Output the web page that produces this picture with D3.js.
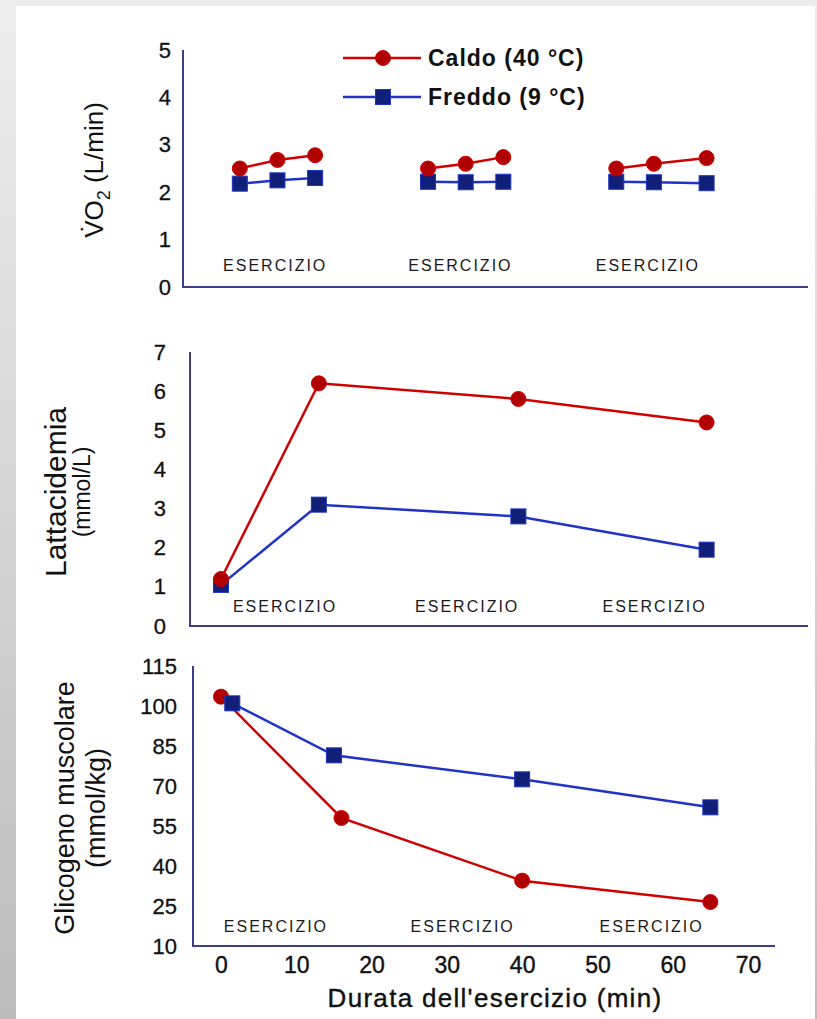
<!DOCTYPE html>
<html>
<head>
<meta charset="utf-8">
<script src="https://cdn.jsdelivr.net/npm/d3@7"></script>
<style>
  body { margin: 0; padding: 0; overflow: hidden; }
  svg { display: block; }
</style>
</head>
<body>
<div id="chart"></div>
<script>
// ---- data ----
const seriesNames = ['Caldo (40 °C)', 'Freddo (9 °C)'];
const xTicks = [0, 10, 20, 30, 40, 50, 60, 70];
const vo2Ticks = [0, 1, 2, 3, 4, 5];
const lacTicks = [0, 1, 2, 3, 4, 5, 6, 7];
const glyTicks = [10, 25, 40, 55, 70, 85, 100, 115];

// VO2: three separate exercise bouts, three samples each
const vo2Minutes = [2.5, 7.5, 12.5, 27.5, 32.5, 37.5, 52.5, 57.5, 64.5];
const vo2Bout = [0, 0, 0, 1, 1, 1, 2, 2, 2];
const vo2Caldo = [2.5, 2.68, 2.78, 2.5, 2.6, 2.74, 2.5, 2.6, 2.72];
const vo2Freddo = [2.18, 2.25, 2.3, 2.22, 2.21, 2.22, 2.22, 2.21, 2.19];

// blood lactate
const lacMinutes = [0, 13, 39.5, 64.5];
const lacCaldo = [1.2, 6.2, 5.8, 5.2];
const lacFreddo = [1.05, 3.1, 2.8, 1.95];

// muscle glycogen
const glyMinutesCaldo = [0, 16, 40, 65];
const glyCaldo = [103.5, 58, 34.5, 26.5];
const glyMinutesFreddo = [1.5, 15, 40, 65];
const glyFreddo = [101, 81.5, 72.5, 62];

const exerciseLabel = 'ESERCIZIO';

// ---- layout ----
const width = 817, height = 1019;
const font = '"Liberation Sans", Arial, Helvetica, sans-serif';
const red = '#d00000', redFill = '#b00000';
const blue = '#1f33c4', blueFill = '#101f78';
const axisColor = '#3d3d8c';
const ink = '#111';

const x = d3.scaleLinear().domain([0, 70]).range([221, 748]);

const svg = d3.select('#chart').append('svg')
  .attr('width', width)
  .attr('height', height)
  .attr('font-family', font);

// slide background: grey frame with a gradient strip on the left
const defs = svg.append('defs');
const grad = defs.append('linearGradient').attr('id', 'side').attr('x1', 0).attr('y1', 0).attr('x2', 0).attr('y2', 1);
grad.append('stop').attr('offset', '0%').attr('stop-color', '#ededed');
grad.append('stop').attr('offset', '100%').attr('stop-color', '#bcbcbc');
svg.append('rect').attr('width', width).attr('height', height).attr('fill', 'url(#side)');
svg.append('rect').attr('x', 0).attr('y', 0).attr('width', width).attr('height', 6).attr('fill', '#ececec');
svg.append('rect').attr('x', 16).attr('y', 6).attr('width', 799).attr('height', height - 6).attr('fill', '#fff');

// one entry per panel (layout only)
const panels = [
  {
    ticks: vo2Ticks, top: 50, bottom: 287, axisX: 183, right: 808, labelRight: 171,
    exMinutes: [7.2, 31.8, 56.7], exY: 271,
    title: 'vo2', titleX: 94, titleY: 170
  },
  {
    ticks: lacTicks, top: 352, bottom: 626, axisX: 190, right: 808, labelRight: 166,
    exMinutes: [8.5, 32.7, 57.6], exY: 612,
    title: ['Lattacidemia', '(mmol/L)'], titleX: [55, 82], titleY: 492, titleSize: [30, 23]
  },
  {
    ticks: glyTicks, top: 666, bottom: 946, axisX: 193, right: 775, labelRight: 177,
    exMinutes: [7.3, 32.1, 57.2], exY: 932,
    title: ['Glicogeno muscolare', '(mmol/kg)'], titleX: [65, 96], titleY: 808, titleSize: [27, 27]
  }
];

panels.forEach(p => {
  p.y = d3.scaleLinear()
    .domain([p.ticks[0], p.ticks[p.ticks.length - 1]])
    .range([p.bottom, p.top]);
  p.g = svg.append('g').attr('class', 'panel');

  // tick labels via d3 axis, without the tick marks or domain
  const axis = p.g.append('g')
    .attr('transform', `translate(${p.labelRight},0)`)
    .call(d3.axisLeft(p.y).tickValues(p.ticks).tickSize(0).tickPadding(0).tickFormat(d3.format('d')));
  axis.select('.domain').remove();
  axis.selectAll('text')
    .attr('font-family', font)
    .attr('font-size', 22)
    .attr('fill', ink)
    .attr('stroke', ink)
    .attr('stroke-width', 0.3);

  // L-shaped axis frame
  p.g.append('path')
    .attr('d', `M${p.axisX},${p.top}V${p.bottom}H${p.right}`)
    .attr('fill', 'none')
    .attr('stroke', axisColor)
    .attr('stroke-width', 2);

  // ESERCIZIO labels under each bout
  p.g.selectAll('.ex').data(p.exMinutes).join('text')
    .attr('class', 'ex')
    .attr('x', d => x(d))
    .attr('y', p.exY)
    .attr('text-anchor', 'middle')
    .attr('font-size', 16)
    .attr('letter-spacing', 2)
    .attr('fill', '#1a1a1a')
    .text(exerciseLabel);
});

// ---- y titles ----
const vo2Title = svg.append('text')
  .attr('transform', `translate(${panels[0].titleX},${panels[0].titleY}) rotate(-90)`)
  .attr('text-anchor', 'middle')
  .attr('dy', '0.35em')
  .attr('font-size', 26)
  .attr('fill', ink);
vo2Title.append('tspan').text('V\u0307O');
vo2Title.append('tspan').attr('font-size', 18).attr('dy', 7).text('2');
vo2Title.append('tspan').attr('dy', -7).text(' (L/min)');

panels.slice(1).forEach(p => {
  p.title.forEach((t, i) => {
    svg.append('text')
      .attr('transform', `translate(${p.titleX[i]},${p.titleY}) rotate(-90)`)
      .attr('text-anchor', 'middle')
      .attr('dy', '0.35em')
      .attr('font-size', p.titleSize[i])
      .attr('fill', ink)
      .text(t);
  });
});

// ---- series drawing helpers ----
function drawLine(g, pts, color) {
  g.append('path')
    .datum(pts)
    .attr('d', d3.line().x(d => d[0]).y(d => d[1]))
    .attr('fill', 'none')
    .attr('stroke', color)
    .attr('stroke-width', 2.5);
}
function drawCircles(g, pts) {
  g.selectAll(null).data(pts).join('circle')
    .attr('cx', d => d[0]).attr('cy', d => d[1]).attr('r', 7.5)
    .attr('fill', redFill).attr('stroke', red).attr('stroke-width', 1);
}
function drawSquares(g, pts) {
  g.selectAll(null).data(pts).join('rect')
    .attr('x', d => d[0] - 7.5).attr('y', d => d[1] - 7.5)
    .attr('width', 15).attr('height', 15)
    .attr('fill', blueFill).attr('stroke', blue).attr('stroke-width', 1);
}

// VO2 panel: each bout is its own short line
{
  const p = panels[0];
  const bouts = d3.groups(d3.range(vo2Minutes.length), i => vo2Bout[i]);
  const caldo = vo2Minutes.map((m, i) => [x(m), p.y(vo2Caldo[i])]);
  const freddo = vo2Minutes.map((m, i) => [x(m), p.y(vo2Freddo[i])]);
  bouts.forEach(([, idx]) => {
    drawLine(p.g, idx.map(i => freddo[i]), blue);
    drawLine(p.g, idx.map(i => caldo[i]), red);
  });
  drawSquares(p.g, freddo);
  drawCircles(p.g, caldo);
}

// lactate panel
{
  const p = panels[1];
  const caldo = lacMinutes.map((m, i) => [x(m), p.y(lacCaldo[i])]);
  const freddo = lacMinutes.map((m, i) => [x(m), p.y(lacFreddo[i])]);
  drawLine(p.g, freddo, blue);
  drawLine(p.g, caldo, red);
  drawSquares(p.g, freddo);
  drawCircles(p.g, caldo);
}

// glycogen panel
{
  const p = panels[2];
  const caldo = glyMinutesCaldo.map((m, i) => [x(m), p.y(glyCaldo[i])]);
  const freddo = glyMinutesFreddo.map((m, i) => [x(m), p.y(glyFreddo[i])]);
  drawLine(p.g, caldo, red);
  drawLine(p.g, freddo, blue);
  drawCircles(p.g, caldo);
  drawSquares(p.g, freddo);

  // shared time axis under the last panel
  const xAxis = svg.append('g')
    .attr('transform', `translate(0,${p.bottom + 11})`)
    .call(d3.axisBottom(x).tickValues(xTicks).tickSize(0).tickPadding(0));
  xAxis.select('.domain').remove();
  xAxis.selectAll('text')
    .attr('font-family', font)
    .attr('font-size', 23)
    .attr('fill', ink)
    .attr('stroke', ink)
    .attr('stroke-width', 0.4);

  svg.append('text')
    .attr('x', 495)
    .attr('y', 1007)
    .attr('text-anchor', 'middle')
    .attr('font-size', 26)
    .attr('letter-spacing', 1.3)
    .attr('fill', ink)
    .attr('stroke', ink)
    .attr('stroke-width', 0.4)
    .text("Durata dell'esercizio (min)");
}

// ---- legend ----
const legend = svg.append('g').attr('class', 'legend');
seriesNames.forEach((name, i) => {
  const ly = 58 + i * 39;
  const isCaldo = i === 0;
  drawLine(legend, [[343, ly], [421, ly]], isCaldo ? red : blue);
  if (isCaldo) drawCircles(legend, [[383, ly]]);
  else drawSquares(legend, [[383, ly]]);
  legend.append('text')
    .attr('x', 428)
    .attr('y', ly)
    .attr('dy', '0.35em')
    .attr('font-size', 23)
    .attr('font-weight', 'bold')
    .attr('letter-spacing', 1)
    .attr('fill', ink)
    .text(name);
});
</script>
</body>
</html>
